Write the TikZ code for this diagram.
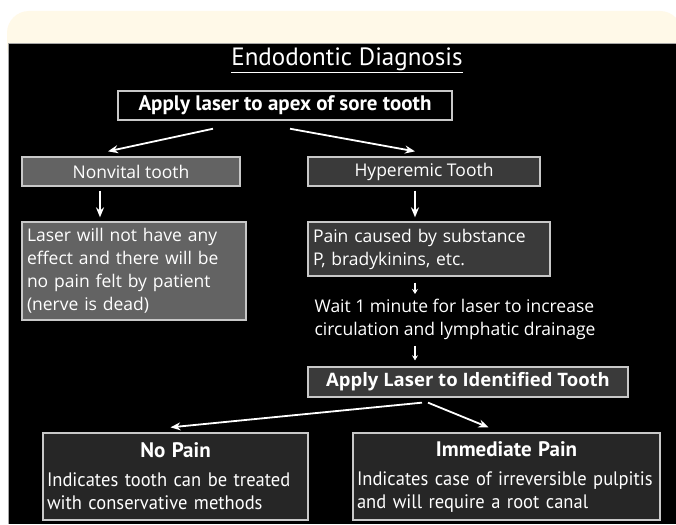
\documentclass[tikz,border=0pt]{standalone}
\usepackage{fontspec}
\usepackage{tikz}
\usetikzlibrary{arrows.meta}
\newfontfamily\boxfont{Open Sans}
\newfontfamily\headfont{PT Sans}
\newfontfamily\condfont[FakeStretch=0.95]{PT Sans}
\definecolor{cream}{HTML}{FFF9E8}
\definecolor{lightbox}{HTML}{636363}
\definecolor{midbox}{HTML}{3A3A3A}
\definecolor{darkbox}{HTML}{262626}
\definecolor{rim}{HTML}{C8C8C8}
\hyphenpenalty=10000

\begin{document}
\begin{tikzpicture}[x=1pt,y=-1pt,>=Stealth,
  box/.style={draw=rim,line width=1.3pt,text=white,inner sep=5pt},
  plain/.style={box,font=\boxfont\fontsize{17.5}{23}\selectfont},
  head/.style={box,font=\headfont\bfseries\fontsize{21}{24}\selectfont},
  result/.style={box,fill=darkbox,minimum height=87pt,align=left,inner sep=4pt,
    font=\condfont\fontsize{19.5}{23}\selectfont},
  flow/.style={-{Stealth[length=10pt,width=8pt]},white,line width=1.8pt},
  tick/.style={-{Stealth[length=5pt,width=6pt]},white,line width=1.3pt}]
\useasboundingbox (0,0) rectangle (676,524);
\fill[white] (0,0) rectangle (676,524);
% cream banner and black slide
\fill[cream,rounded corners=22pt] (7,11) rectangle (682,70);
\fill[black] (8,44) rectangle (676,524);
\draw[gray!70,line width=1pt] (8,524)--(8,44)--(676,44);
\node[text=white,font=\headfont\fontsize{25}{28}\selectfont] (title) at (347,60) {\underline{Endodontic Diagnosis}};
\node[head,fill=black,minimum width=334pt,minimum height=27pt] (apex) at (285,105.5) {Apply laser to apex of sore tooth};
\node[plain,fill=lightbox,minimum width=218pt,minimum height=29pt] (nonvital) at (131,171.5) {Nonvital tooth};
\node[plain,fill=midbox,minimum width=232pt,minimum height=29pt] (hyper) at (424,171.5) {Hyperemic Tooth};
\node[plain,fill=lightbox,text width=214pt,minimum height=98pt,align=left] (nofeel) at (134,271) {Laser will not have any\\effect and there will be\\no pain felt by patient\\(nerve is dead)};
\node[plain,fill=midbox,text width=232pt,minimum height=54pt,align=left] (substance) at (429,249) {Pain caused by substance\\P, bradykinins, etc.};
\node[plain,draw=none,anchor=north west,align=left] (wait) at (309,293) {Wait 1 minute for laser to increase\\circulation and lymphatic drainage};
\node[box,fill=midbox,font=\boxfont\bfseries\fontsize{18.5}{22}\selectfont,minimum width=320pt,minimum height=30pt] (identified) at (468,382) {Apply Laser to Identified Tooth};
\node[result,text width=257pt] (nopain) at (175.5,476.5) {{\centering\headfont\bfseries\fontsize{21}{24}\selectfont No Pain\par}\vspace{6pt}\mbox{Indicates tooth can be treated}\\\mbox{with conservative methods}};
\node[result,text width=299pt] (immediate) at (506.5,476.5) {{\centering\headfont\bfseries\fontsize{21}{24}\selectfont Immediate Pain\par}\vspace{6pt}\mbox{Indicates case of irreversible pulpitis}\\\mbox{and will require a root canal}};
% connectors
\draw[flow] ([xshift=-72pt,yshift=-8pt]apex.south) -- ([xshift=-23pt,yshift=5pt]nonvital.north);
\draw[flow] ([xshift=5pt,yshift=-8pt]apex.south) -- ([xshift=-9pt,yshift=5pt]hyper.north);
\draw[flow] ([xshift=-31pt,yshift=-4pt]nonvital.south) -- ([xshift=-34pt,yshift=4pt]nofeel.north);
\draw[flow] ([xshift=-9pt,yshift=-4pt]hyper.south) -- ([xshift=-14pt,yshift=4pt]substance.north);
\draw[tick] ([xshift=-14pt,yshift=-6pt]substance.south) -- ([xshift=-14pt,yshift=-1pt]substance.south |- wait.north);
\draw[tick] ([xshift=-53pt,yshift=-1pt]identified.north |- wait.south) -- ([xshift=-53pt,yshift=6pt]identified.north);
\draw[flow] ([xshift=-46pt,yshift=-5pt]identified.south) -- ([xshift=-5pt,yshift=5pt]nopain.north);
\draw[flow] ([xshift=-40pt,yshift=-5pt]identified.south) -- ([xshift=-18pt,yshift=5pt]immediate.north);
\end{tikzpicture}
\end{document}
